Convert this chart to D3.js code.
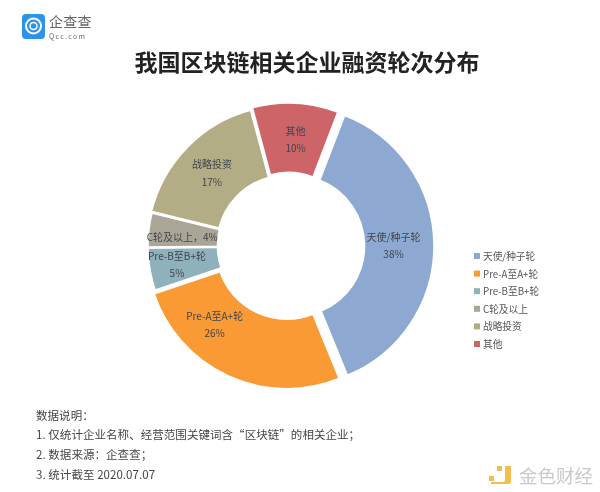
<!DOCTYPE html>
<html>
<head>
<meta charset="utf-8">
<script src="https://cdn.jsdelivr.net/npm/d3@7"></script>
<style>
  body { margin: 0; background: #fff; }
  svg { display: block; filter: blur(0.35px); }
  text { font-family: "Noto Sans CJK SC", "Noto Sans", sans-serif; }
</style>
</head>
<body>
<svg id="chart"></svg>
<script>
// Chart values
const categories = ['天使/种子轮', 'Pre-A至A+轮', 'Pre-B至B+轮', 'C轮及以上', '战略投资', '其他']
const shares = [38, 26, 5, 4, 17, 10]
const notes = [
    '数据说明：',
    '1. 仅统计企业名称、经营范围关键词含“区块链”的相关企业；',
    '2. 数据来源：企查查；',
    '3. 统计截至 2020.07.07'
]

// Styling
const colors = ['#8ea9d1', '#fa9a35', '#8fb1bc', '#a9a698', '#b3ad85', '#cd6468']
const explode = [6, 3, 0, 0, 1, 3]
const labelShift = [[-1, 1], [-29, -18], [-6, 1], [0, 3], [0, 2], [2, 0]]

const width = 600
const height = 492
const cx = 288
const cy = 246
const outerRadius = 140.5
const innerRadius = 70

const svg = d3.select('#chart')
    .attr('width', width)
    .attr('height', height)

// Logo
const logo = svg.append('g')
logo.append('rect')
    .attr('x', 22).attr('y', 14).attr('width', 23).attr('height', 25).attr('rx', 4)
    .attr('fill', '#2b93ea')
logo.append('circle')
    .attr('cx', 33.5).attr('cy', 26).attr('r', 7.5)
    .attr('fill', 'none').attr('stroke', '#fff').attr('stroke-width', 2)
logo.append('circle')
    .attr('cx', 33.5).attr('cy', 26).attr('r', 3.5)
    .attr('fill', 'none').attr('stroke', '#fff').attr('stroke-width', 1.5)
logo.append('text')
    .attr('x', 49).attr('y', 27)
    .attr('font-size', 14).attr('letter-spacing', 0.3).attr('fill', '#666')
    .text('企查查')
logo.append('text')
    .attr('x', 49).attr('y', 38.5)
    .attr('font-size', 7).attr('letter-spacing', 1.3).attr('fill', '#666')
    .text('Qcc.com')

// Title
svg.append('text')
    .attr('x', 307).attr('y', 71)
    .attr('text-anchor', 'middle')
    .attr('font-size', 23).attr('font-weight', 700).attr('fill', '#222')
    .text('我国区块链相关企业融资轮次分布')

// Donut
const rows = categories.map((name, i) => ({ name, share: shares[i], i }))

const startAngle = 21 * Math.PI / 180
const pie = d3.pie()
    .value(d => d.share)
    .sort(null)
    .startAngle(startAngle)
    .endAngle(startAngle + 2 * Math.PI)

const arc = d3.arc()
    .innerRadius(innerRadius)
    .outerRadius(outerRadius)

const labelArc = d3.arc()
    .innerRadius(106.5)
    .outerRadius(106.5)

const arcs = pie(rows)
const donut = svg.append('g').attr('transform', `translate(${cx},${cy})`)

donut.selectAll('path')
    .data(arcs)
    .join('path')
    .attr('d', arc)
    .attr('fill', d => colors[d.data.i])
    .attr('stroke', '#fff')
    .attr('stroke-width', 2.6)
    .attr('transform', d => {
        const mid = (d.startAngle + d.endAngle) / 2
        const off = explode[d.data.i]
        return `translate(${off * Math.sin(mid)},${-off * Math.cos(mid)})`
    })

// Slice labels, C轮 is on one line
const labels = donut.selectAll('g.label')
    .data(arcs)
    .join('g')
    .attr('class', 'label')
    .attr('transform', d => {
        const [x, y] = labelArc.centroid(d)
        const [dx, dy] = labelShift[d.data.i]
        return `translate(${x + dx},${y + dy})`
    })
    .attr('text-anchor', 'middle')
    .attr('font-size', 10)
    .attr('fill', '#40444c')

labels.filter(d => d.data.i !== 3).append('text')
    .attr('y', -5)
    .text(d => d.data.name)
labels.filter(d => d.data.i !== 3).append('text')
    .attr('y', 12.5)
    .text(d => d.data.share + '%')
labels.filter(d => d.data.i === 3).append('text')
    .attr('y', 4)
    .text(d => `${d.data.name}，${d.data.share}%`)

// Legend
const legendY = d3.scalePoint()
    .domain(categories)
    .range([256, 344])

const legend = svg.selectAll('g.legend')
    .data(categories)
    .join('g')
    .attr('class', 'legend')
    .attr('transform', d => `translate(474,${legendY(d)})`)

legend.append('rect')
    .attr('x', 0).attr('y', -3).attr('width', 6).attr('height', 6)
    .attr('fill', (d, i) => colors[i])
legend.append('text')
    .attr('x', 9).attr('y', 4)
    .attr('font-size', 9.7).attr('fill', '#555')
    .text(d => d)

// Notes
svg.selectAll('text.note')
    .data(notes)
    .join('text')
    .attr('class', 'note')
    .attr('x', 36)
    .attr('y', (d, i) => 419.5 + i * 19.8)
    .attr('font-size', 11.5)
    .attr('letter-spacing', 0.05)
    .attr('fill', '#444')
    .text(d => d)

// Watermark
const mark = svg.append('g').attr('fill', '#f4bd4f')
mark.append('rect').attr('x', 489).attr('y', 476).attr('width', 5).attr('height', 5)
mark.append('rect').attr('x', 497).attr('y', 466).attr('width', 5).attr('height', 5)
mark.append('path').attr('d', 'M505,466h6v15q0,3-3,3h-17v-2h12q2,0,2-2z')
svg.append('text')
    .attr('x', 519).attr('y', 483)
    .attr('font-size', 18.5).attr('fill', '#c9c9c9')
    .text('金色财经')
</script>
</body>
</html>
